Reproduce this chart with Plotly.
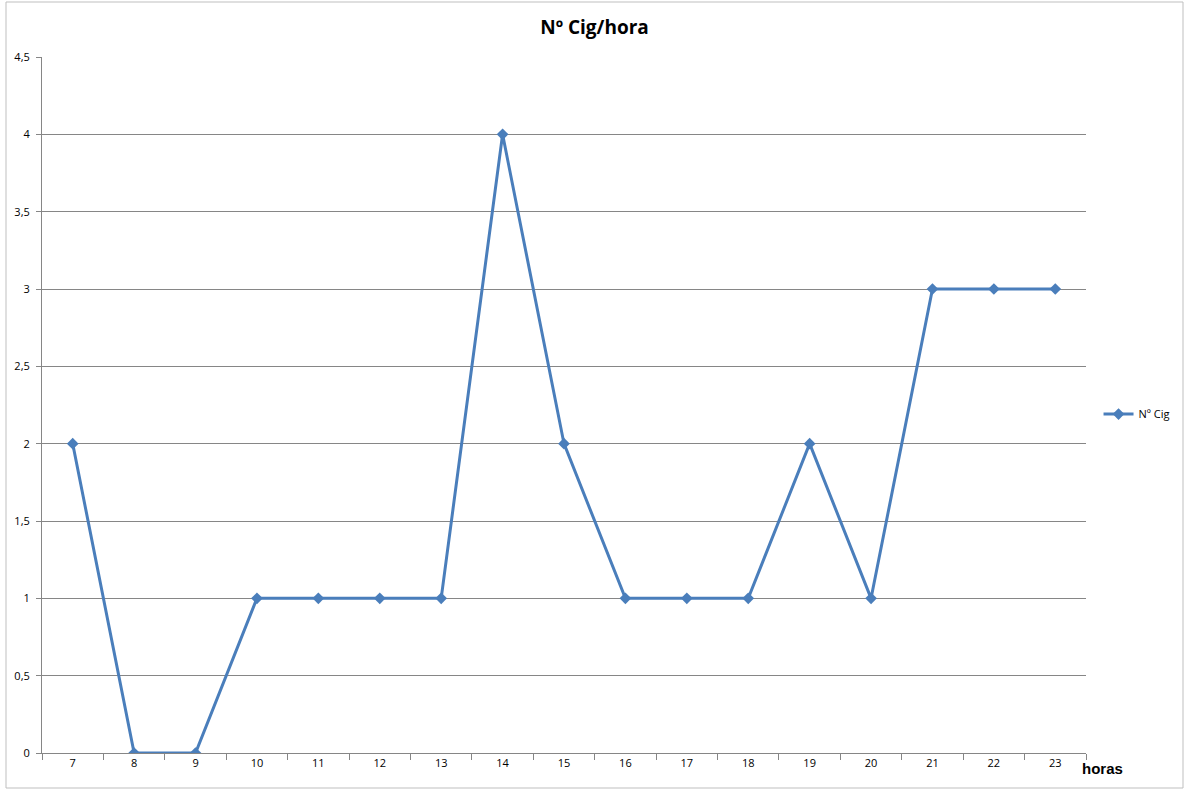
import plotly.graph_objects as go

horas = ["7", "8", "9", "10", "11", "12", "13", "14", "15", "16", "17", "18", "19", "20", "21", "22", "23"]
n_cig = [2, 0, 0, 1, 1, 1, 1, 4, 2, 1, 1, 1, 2, 1, 3, 3, 3]

fig = go.Figure()
fig.add_trace(go.Scatter(
    x=horas, y=n_cig, mode="lines+markers", name="Nº Cig",
    line=dict(color="#4A7EBB", width=3),
    marker=dict(symbol="diamond", size=9, color="#4A7EBB"),
))

axis_col = "#868686"
fig.update_layout(
    width=1189, height=794,
    margin=dict(l=42, r=103, t=57, b=41),
    paper_bgcolor="white", plot_bgcolor="white",
    separators=", ",
    font=dict(family="Open Sans, Noto Sans, sans-serif", size=11, color="black"),
    title=dict(text="<b>Nº Cig/hora</b>", x=0.5, xanchor="center", y=0.965, yanchor="middle",
               font=dict(family="Open Sans, sans-serif", size=19, color="black")),
    showlegend=True,
    legend=dict(x=1.012, y=0.487, xanchor="left", yanchor="middle",
                font=dict(size=11), bgcolor="rgba(0,0,0,0)", itemwidth=30),
    xaxis=dict(type="category", range=[-0.5, 16.5], tickson="boundaries",
               ticks="outside", ticklen=6, tickcolor=axis_col,
               showline=True, linecolor=axis_col, linewidth=1,
               showgrid=False, zeroline=False, fixedrange=True),
    yaxis=dict(range=[0, 4.5], dtick=0.5, ticks="outside", ticklen=5, tickcolor=axis_col,
               showline=True, linecolor=axis_col, linewidth=1,
               showgrid=True, gridcolor=axis_col, gridwidth=1, zeroline=False,
               ticklabelstandoff=4),
    annotations=[dict(text="<b>horas</b>", xref="paper", yref="paper",
                      x=0.994, y=-0.022, xanchor="left", yanchor="middle", showarrow=False,
                      font=dict(family="Liberation Sans, Arial, sans-serif", size=15, color="black"))],
    shapes=[dict(type="rect", xref="paper", yref="paper",
                 x0=-36/1044, x1=(1183-42)/1044, y0=-(788-753)/696, y1=(753-2)/696,
                 line=dict(color="#BFBFBF", width=1), layer="below")],
)

fig.write_html("out.html", config={"displayModeBar": False},
               post_script="document.body.style.margin='0';document.body.style.overflow='hidden';")
